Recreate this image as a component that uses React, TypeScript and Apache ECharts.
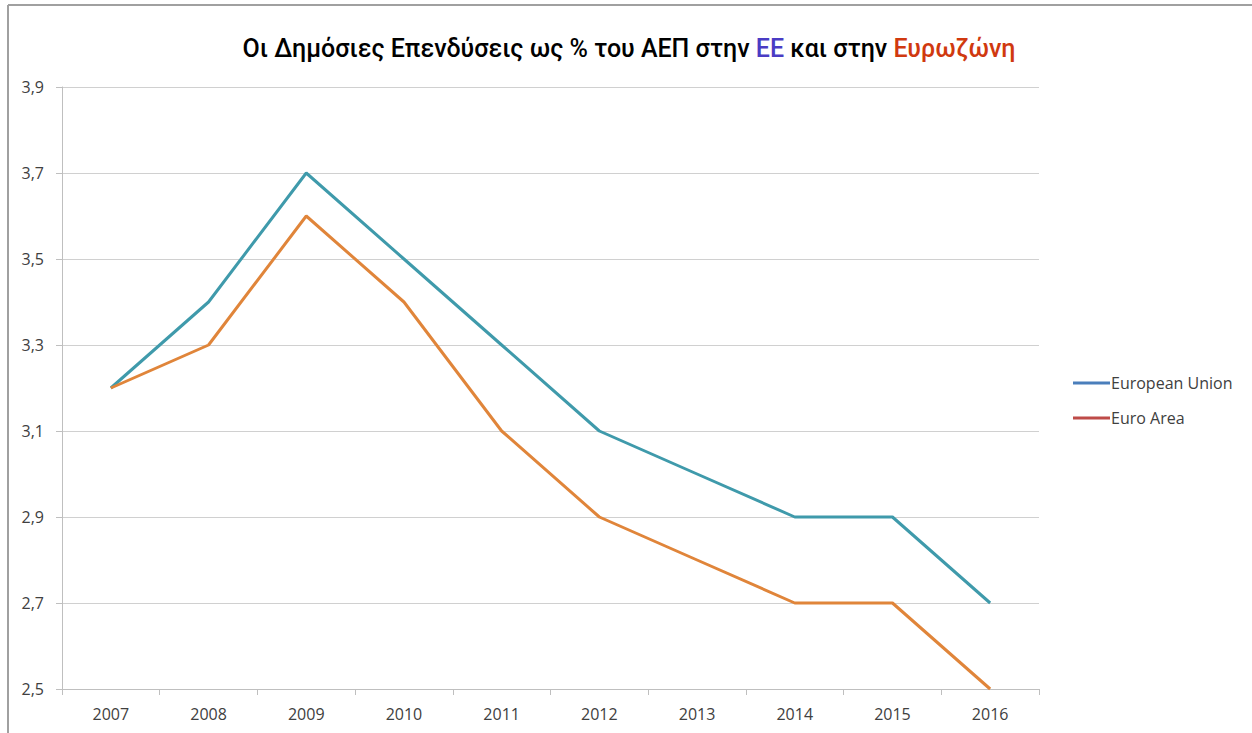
import React, { useEffect, useRef } from "react";
import * as echarts from "echarts";

const years = ["2007", "2008", "2009", "2010", "2011", "2012", "2013", "2014", "2015", "2016"];
const euValues = [3.2, 3.4, 3.7, 3.5, 3.3, 3.1, 3.0, 2.9, 2.9, 2.7];
const eaValues = [3.2, 3.3, 3.6, 3.4, 3.1, 2.9, 2.8, 2.7, 2.7, 2.5];
const seriesNames = ["European Union", "Euro Area"];

export default function App() {
  const ref = useRef<HTMLDivElement>(null);
  useEffect(() => {
    if (!ref.current) return;
    const chart = echarts.init(ref.current, null, { renderer: "svg" });
    const tf = { fontFamily: "Roboto", fontSize: 25, fontWeight: 500 };
    chart.setOption({
      animation: false,
      backgroundColor: "#ffffff",
      title: {
        text: "{a|Οι Δημόσιες Επενδύσεις ως % του ΑΕΠ στην }{b|ΕΕ}{a| και στην }{c|Ευρωζώνη}",
        left: 624,
        top: 31,
        textAlign: "center",
        textStyle: {
          fontWeight: "normal",
          rich: {
            a: { ...tf, color: "#000000" },
            b: { ...tf, color: "#4a3cc4" },
            c: { ...tf, color: "#d0390f" },
          },
        },
      },
      legend: {
        orient: "vertical",
        left: 1068,
        top: 370,
        itemWidth: 37,
        itemHeight: 3,
        itemGap: 19,
        icon: "rect",
        textStyle: { fontFamily: "Open Sans", fontSize: 16, color: "#404040", padding: [0, 0, 0, -4] },
        data: [
          { name: seriesNames[0], itemStyle: { color: "#4a7ebb" } },
          { name: seriesNames[1], itemStyle: { color: "#be4b48" } },
        ],
      },
      grid: { left: 62, right: 213, top: 87, bottom: 44 },
      xAxis: {
        type: "category",
        data: years,
        boundaryGap: true,
        axisLine: { lineStyle: { color: "#bfbfbf", width: 1 } },
        axisTick: { show: true, length: 6, lineStyle: { color: "#bfbfbf" } },
        axisLabel: { fontFamily: "Open Sans", fontSize: 16, color: "#404040", margin: 17 },
      },
      yAxis: {
        type: "value",
        min: 2.5,
        max: 3.9,
        interval: 0.2,
        axisLine: { show: true, lineStyle: { color: "#bfbfbf" } },
        axisTick: { show: true, length: 6, lineStyle: { color: "#bfbfbf" } },
        splitLine: { lineStyle: { color: "#d0d0d0", width: 1 } },
        axisLabel: {
          fontFamily: "Open Sans",
          fontSize: 16,
          color: "#404040",
          margin: 18,
          formatter: (v: number) => v.toFixed(1).replace(".", ","),
        },
      },
      series: [
        {
          name: seriesNames[0],
          type: "line",
          data: euValues,
          symbol: "none",
          lineStyle: { color: "#3f9aab", width: 3 },
          itemStyle: { color: "#4a7ebb" },
        },
        {
          name: seriesNames[1],
          type: "line",
          data: eaValues,
          symbol: "none",
          lineStyle: { color: "#e0853a", width: 3 },
          itemStyle: { color: "#be4b48" },
        },
      ],
      graphic: [
        { type: "line", shape: { x1: 8, y1: 5, x2: 1252, y2: 5 }, style: { stroke: "#a0a0a0", lineWidth: 2 } },
        { type: "line", shape: { x1: 8, y1: 5, x2: 8, y2: 733 }, style: { stroke: "#a0a0a0", lineWidth: 2 } },
      ],
    });
    return () => chart.dispose();
  }, []);
  return (
    <div
      ref={ref}
      style={{ position: "fixed", left: 0, top: 0, width: 1252, height: 733 }}
    />
  );
}
